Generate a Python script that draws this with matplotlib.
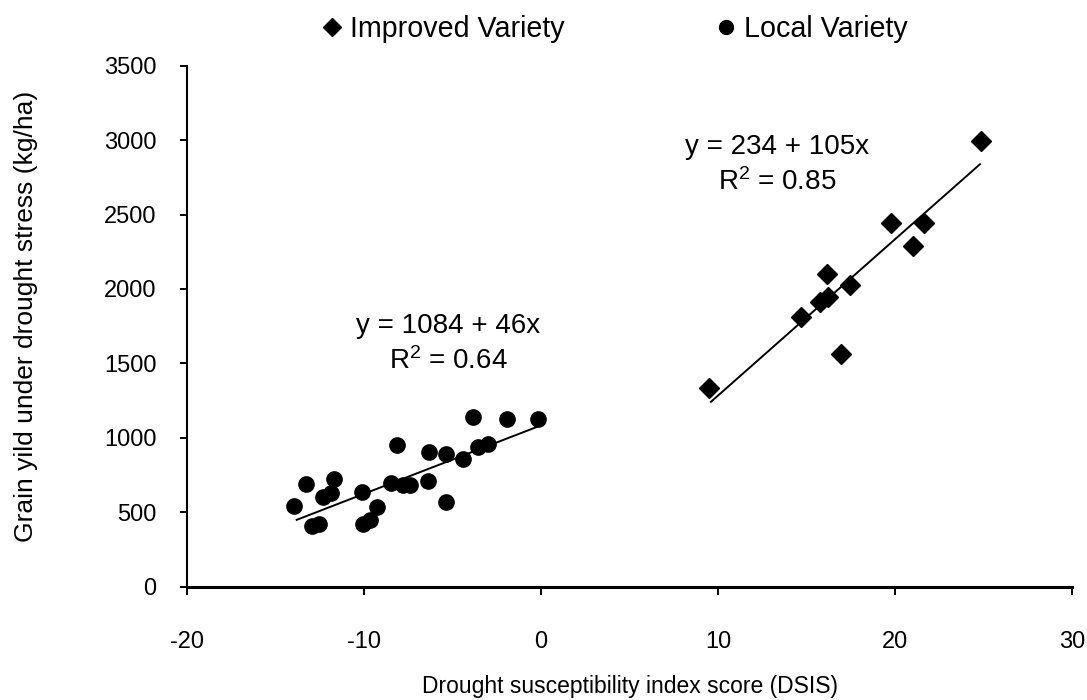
import matplotlib
matplotlib.use("Agg")
import matplotlib.pyplot as plt
from matplotlib.lines import Line2D
import numpy as np

plt.rcParams['font.family'] = ['Liberation Sans', 'DejaVu Sans']
plt.rcParams['mathtext.default'] = 'regular'

# Local variety (circles)
local_x = [-13.95, -13.28, -12.95, -12.53, -12.30, -11.88, -11.69, -10.13, -10.04, -9.66,
           -9.28, -8.15, -8.49, -7.81, -7.40, -6.40, -6.31, -5.38, -5.38, -4.42,
           -3.86, -3.54, -2.98, -1.90, -0.17]
local_y = [544, 688, 408, 419, 605, 632, 724, 634, 419, 448,
           534, 952, 699, 683, 683, 710, 905, 890, 571, 858,
           1142, 941, 957, 1125, 1125]

# Improved variety (diamonds)
impr_x = [9.49, 14.67, 15.76, 16.23, 16.14, 17.46, 16.93, 19.77, 21.66, 21.03, 24.85]
impr_y = [1333, 1815, 1915, 1949, 2101, 2028, 1564, 2442, 2442, 2292, 2994]

# Regression equations as printed on the chart
local_fit = (1084, 46)
local_fit_range = (-13.8, -0.2)
impr_fit = (234, 105)
impr_fit_range = (9.6, 24.8)

x_ticks = [-20, -10, 0, 10, 20, 30]
y_ticks = [0, 500, 1000, 1500, 2000, 2500, 3000, 3500]

fig = plt.figure(figsize=(10.87, 7.0), dpi=100)
ax = fig.add_axes([187/1087, (700-586.7)/700, (1072-187)/1087, (586.7-65.7)/700])

ax.plot(local_x, local_y, linestyle='none', marker='o', ms=11, color='black', zorder=3)
ax.plot(impr_x, impr_y, linestyle='none', marker='D', ms=10, color='black', zorder=3)

for (b0, b1), (xa, xb) in [(local_fit, local_fit_range), (impr_fit, impr_fit_range)]:
    xs = np.array([xa, xb])
    ax.plot(xs, b0 + b1 * xs, color='black', lw=1.4, zorder=2)

ax.text(-5.25, 1631, 'y = 1084 + 46x\nR$^{2}$ = 0.64', ha='center', va='center',
        fontsize=20, linespacing=1.38, multialignment='center')
ax.text(13.33, 2834, 'y = 234 + 105x\nR$^{2}$ = 0.85', ha='center', va='center',
        fontsize=20, linespacing=1.38, multialignment='center')

ax.set_xlim(-20, 30)
ax.set_ylim(0, 3500)
ax.set_xticks(x_ticks)
ax.set_yticks(y_ticks)
ax.set_xticklabels([str(v) for v in x_ticks])
ax.set_yticklabels([str(v) for v in y_ticks])
ax.spines['top'].set_visible(False)
ax.spines['right'].set_visible(False)
ax.spines['left'].set_linewidth(1.5)
ax.spines['bottom'].set_linewidth(2.2)
ax.tick_params(axis='x', direction='out', length=6, width=1.4, pad=26, labelsize=17)
ax.tick_params(axis='y', direction='out', length=5, width=1.4, pad=17, labelsize=17)

ax.set_xlabel('Drought susceptibility index score (DSIS)', fontsize=16.5, labelpad=16)
ax.set_ylabel('Grain yild under drought stress (kg/ha)', fontsize=19)
ax.yaxis.set_label_coords(-0.168, 0.518)

handles = [Line2D([], [], linestyle='none', marker='D', ms=9.5, color='black'),
           Line2D([], [], linestyle='none', marker='o', ms=10, color='black')]
fig.legend(handles, ['Improved Variety', 'Local Variety'], ncol=2, frameon=False,
           loc='upper left', bbox_to_anchor=(323/1087, 1 - 15/700),
           borderpad=0, borderaxespad=0, handlelength=0.6, handletextpad=0.33,
           columnspacing=5.37, fontsize=20.6)

fig.savefig('out.png', dpi=100)
